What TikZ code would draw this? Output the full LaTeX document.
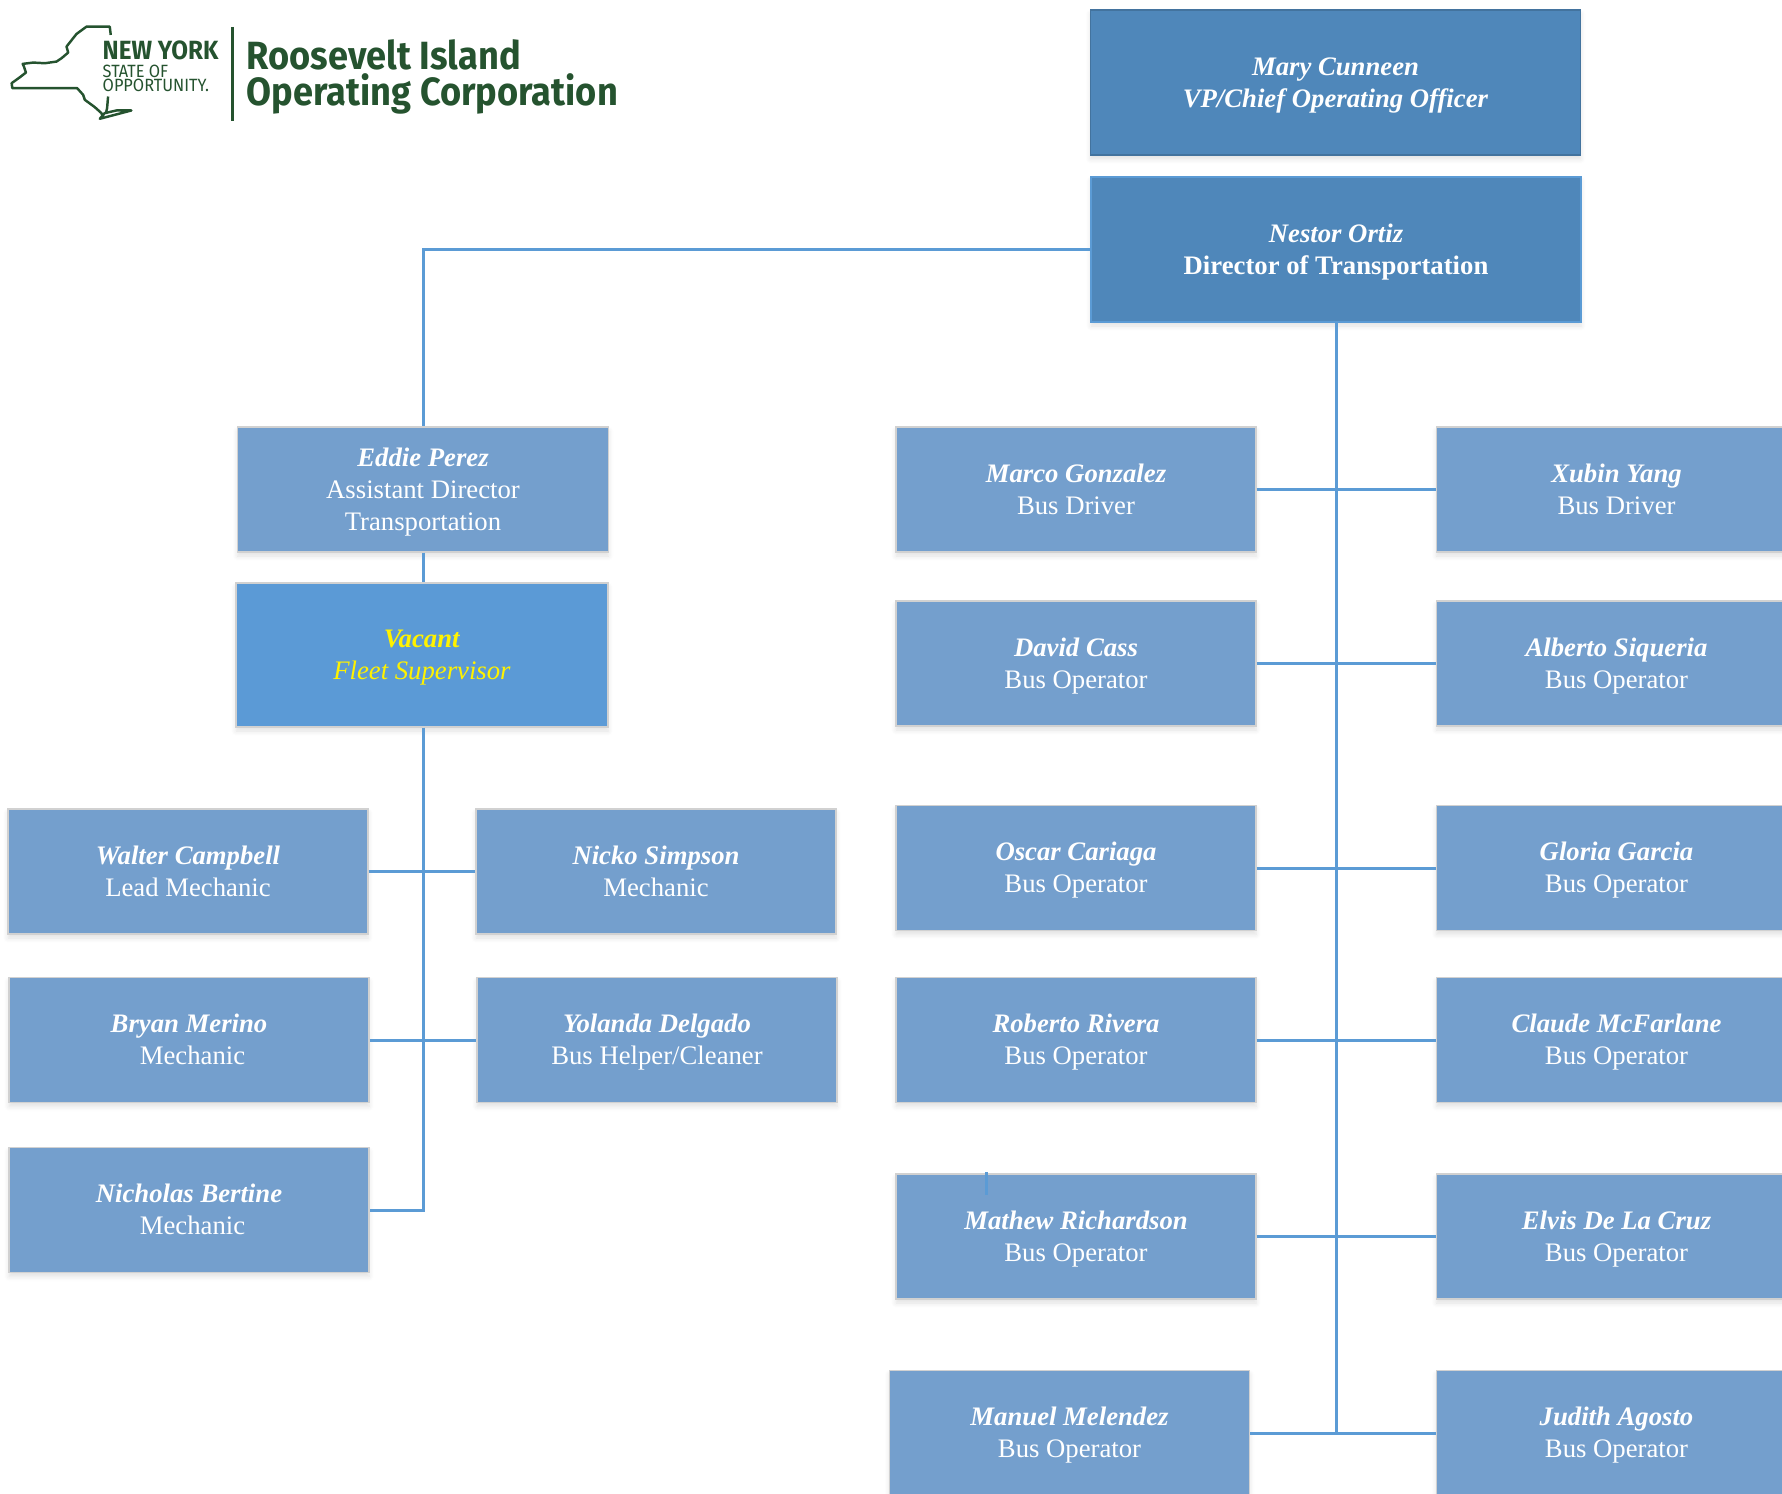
\documentclass[tikz,border=0pt]{standalone}
\usepackage{fontspec}
\setmainfont{Liberation Serif}
\newfontfamily\logofont[FakeStretch=0.92]{Fira Sans}
\usetikzlibrary{shadows.blur}

\definecolor{topblue}{HTML}{4F87BA}
\definecolor{staffblue}{HTML}{749FCD}
\definecolor{vacantblue}{HTML}{5B9AD6}
\definecolor{linkblue}{HTML}{5B9BD5}
\definecolor{logogreen}{HTML}{25532F}

\tikzset{
  staffbox/.style={rectangle,draw=black!18,line width=0.4pt,fill=staffblue,text=white,
    minimum width=3.6cm,minimum height=1.25cm,inner sep=0pt,align=center,
    font=\fontsize{7.6}{9.1}\selectfont,
    execute at end node={\rule[-1.7pt]{0pt}{1.7pt}},
    blur shadow={shadow xshift=0cm,shadow yshift=-0.04cm,shadow blur steps=6,shadow opacity=12,shadow blur radius=0.05cm}},
  headbox/.style={staffbox,fill=topblue,draw=topblue!85!black,minimum width=4.9cm,minimum height=1.45cm},
  link/.style={draw=linkblue,line width=0.85pt},
  logotext/.style={anchor=base west,inner sep=0pt,text=logogreen}
}
\newcommand{\who}[1]{\rule{0pt}{6.6pt}\textbf{\textit{#1}}}

\begin{document}
\begin{tikzpicture}

    \clip (0,0) rectangle (17.82,-14.93);

    % logo
    \begin{scope}[shift={(0,-0.20)},x=0.00333cm,y=-0.00333cm,draw=logogreen,line width=0.7pt,line join=round]
        \draw (333,45)--(330,20)--(260,20)--(230,42)--(200,80)--(205,98)--(185,115)--(170,125)--(135,130)--(100,128)--(68,132)--(72,140)--(78,158)--(60,172)--(35,190)--(37,205)--(232,205)--(250,225)--(255,240)--(285,262)--(305,280)--(310,295);
        \draw (300,297)--(395,272)--(350,272)--(315,280)--cycle;
        \draw (325,230)--(322,265)--(318,282);
    \end{scope}
    \node[logotext,font=\logofont\bfseries\fontsize{7.5}{8}\selectfont] (newyork) at (1.02,-0.60) {NEW YORK};
    \node[logotext,font=\logofont\fontsize{5.05}{6}\selectfont] (stateof) at (1.02,-0.775) {STATE OF};
    \node[logotext,font=\logofont\fontsize{5.05}{6}\selectfont] (opportunity) at (1.02,-0.92) {OPPORTUNITY.};
    \coordinate (dividertop) at (2.326,-0.27);
    \coordinate (dividerbot) at (2.326,-1.21);
    \draw[logogreen,line width=0.7pt] (dividertop) -- (dividerbot);
    \node[logotext,font=\logofont\bfseries\fontsize{11.2}{12}\selectfont] (riname) at (2.46,-0.695) {Roosevelt Island};
    \node[logotext,font=\logofont\bfseries\fontsize{11.2}{12}\selectfont] (ocname) at (2.46,-1.06) {Operating Corporation};

    % top of the chart
    \node[headbox] (cunneen) at (13.355,-0.825) {\who{Mary Cunneen}\\\textbf{\textit{VP/Chief Operating Officer}}};
    \node[headbox,draw=linkblue] (ortiz) at (13.36,-2.495) {\who{Nestor Ortiz}\\\textbf{Director of Transportation}};

    % fleet side
    \node[staffbox,minimum width=3.71cm] (perez) at (4.23,-4.895) {\who{Eddie Perez}\\Assistant Director\\Transportation};
    \node[staffbox,minimum width=3.72cm,minimum height=1.44cm,fill=vacantblue,text=yellow] (vacant) at (4.22,-6.55) {\who{Vacant}\\\textit{Fleet Supervisor}};
    \node[staffbox] (campbell) at (1.88,-8.715) {\who{Walter Campbell}\\Lead Mechanic};
    \node[staffbox] (simpson) at (6.56,-8.715) {\who{Nicko Simpson}\\Mechanic};
    \node[staffbox] (merino) at (1.89,-10.40) {\who{Bryan Merino}\\\hspace*{0.07cm}Mechanic};
    \node[staffbox] (delgado) at (6.57,-10.40) {\who{Yolanda Delgado}\\Bus Helper/Cleaner};
    \node[staffbox] (bertine) at (1.89,-12.10) {\who{Nicholas Bertine}\\\hspace*{0.07cm}Mechanic};

    % bus side
    \node[staffbox] (gonzalez) at (10.76,-4.895) {\who{Marco Gonzalez}\\Bus Driver};
    \node[staffbox] (yang) at (16.165,-4.895) {\who{Xubin Yang}\\Bus Driver};
    \node[staffbox] (cass) at (10.76,-6.635) {\who{David Cass}\\Bus Operator};
    \node[staffbox] (siqueria) at (16.165,-6.635) {\who{Alberto Siqueria}\\Bus Operator};
    \node[staffbox] (cariaga) at (10.76,-8.68) {\who{Oscar Cariaga}\\Bus Operator};
    \node[staffbox] (garcia) at (16.165,-8.68) {\who{Gloria Garcia}\\Bus Operator};
    \node[staffbox] (rivera) at (10.76,-10.40) {\who{Roberto Rivera}\\Bus Operator};
    \node[staffbox] (mcfarlane) at (16.165,-10.40) {\who{Claude McFarlane}\\Bus Operator};
    \node[staffbox] (richardson) at (10.76,-12.365) {\who{Mathew Richardson}\\Bus Operator};
    \node[staffbox] (delacruz) at (16.165,-12.365) {\who{Elvis De La Cruz}\\Bus Operator};
    \node[staffbox] (melendez) at (10.695,-14.33) {\who{Manuel Melendez}\\Bus Operator};
    \node[staffbox] (agosto) at (16.165,-14.33) {\who{Judith Agosto}\\Bus Operator};

    % fleet side links
    \draw[link] (ortiz.west) -| (perez.north);
    \draw[link] (perez.south) -- (perez.south |- vacant.north);
    \draw[link] (perez.south |- vacant.south) |- (bertine.east);
    \draw[link] (campbell.east) -- (simpson.west);
    \draw[link] (merino.east) -- (delgado.west);

    % bus side links
    \draw[link] (ortiz.south) -- (ortiz.south |- melendez.east);
    \draw[link] (gonzalez.east) -- (yang.west);
    \draw[link] (cass.east) -- (siqueria.west);
    \draw[link] (cariaga.east) -- (garcia.west);
    \draw[link] (rivera.east) -- (mcfarlane.west);
    \draw[link] (richardson.east) -- (delacruz.west);
    \draw[link] (melendez.east) -- (agosto.west);

    % stray tick on the box
    \coordinate (ticktop) at (9.865,-11.72);
    \coordinate (tickbot) at (9.865,-11.95);
    \draw[link] (ticktop) -- (tickbot);

\end{tikzpicture}
\end{document}
